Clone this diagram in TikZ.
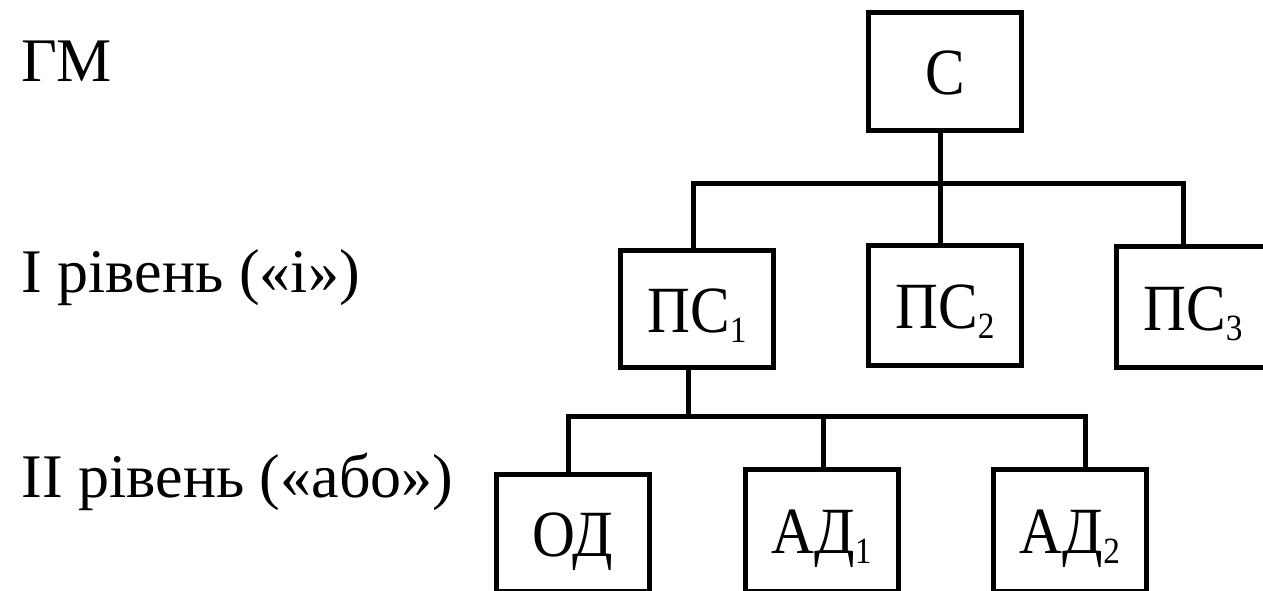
\documentclass[tikz,border=0pt]{standalone}
\usepackage{fontspec}
\setmainfont{Liberation Serif}
\newfontfamily\boxfont[FakeStretch=0.9]{Liberation Serif}
% lowered index digit of a block name
\newcommand\subidx[1]{\raisebox{-10pt}[0pt][0pt]{\fontsize{37}{37}\selectfont #1}}
\begin{document}
\begin{tikzpicture}[x=1pt,y=-1pt,line width=5pt,line join=miter,
  blockbox/.style={draw,rectangle,inner sep=0pt,minimum width=153pt,
    text height=46pt,text depth=0pt,font=\boxfont\fontsize{66}{66}\selectfont},
  levellabel/.style={anchor=base west,inner sep=0pt,font=\fontsize{62}{62}\selectfont}]
\useasboundingbox (0,0) rectangle (1263,591);
\clip (0,0) rectangle (1263,591);

% level labels
\node[levellabel] (gm) at (19,82) {ГМ};
\node[levellabel] (lvl1) at (19,292) {I рівень («і»)};
\node[levellabel] (lvl2) at (19,497) {II рівень («або»)};

% root
\node[blockbox,minimum height=118pt] (C) at (945,71.5) {С};

% first level
\node[blockbox,minimum height=117pt] (ps1) at (697,309) {ПС\subidx{1}};
\node[blockbox,minimum height=120pt] (ps2) at (945,305.5) {ПС\subidx{2}};
\node[blockbox,minimum height=121pt] (ps3) at (1193,307) {ПС\subidx{3}};

% second level
\node[blockbox,minimum height=117pt] (od) at (573,533) {ОД};
\node[blockbox,minimum height=122pt] (ad1) at (821.5,530.5) {АД\subidx{1}};
\node[blockbox,minimum height=122pt] (ad2) at (1070,530.5) {АД\subidx{2}};

% bus joints
\coordinate (j0) at (940,183);
\coordinate (j1) at (693,183);
\coordinate (j3) at (1183,183);
\coordinate (k0) at (688,416);
\coordinate (k1) at (568,416);
\coordinate (k2) at (823,416);
\coordinate (k3) at (1085,416);

% connectors C -> first level
\draw (C.south -| j0) -- (ps2.north -| j0);
\draw (ps1.north -| j1) -- (j1) -- (j3) -- (ps3.north -| j3);

% connectors ПС1 -> second level
\draw (ps1.south -| k0) -- (k0);
\draw (od.north -| k1) -- (k1) -- (k3) -- (ad2.north -| k3);
\draw (k2) -- (ad1.north -| k2);
\end{tikzpicture}
\end{document}
